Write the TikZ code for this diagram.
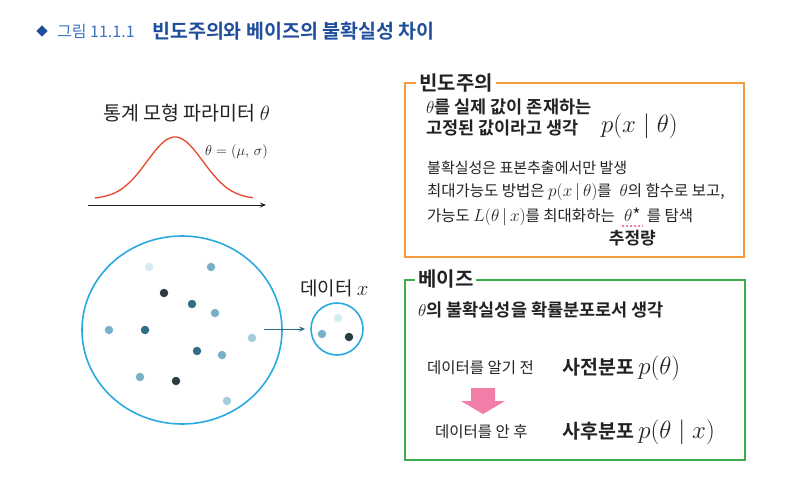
\documentclass[tikz,border=0pt]{standalone}
\usepackage[no-math]{fontspec}
\setmainfont{Noto Sans CJK KR}[BoldFont={Noto Sans CJK KR Bold}]
\usetikzlibrary{arrows.meta,shapes.geometric}
\definecolor{ttlblue}{HTML}{1F4E9C}
\definecolor{ttllight}{HTML}{3F73BE}
\definecolor{frorange}{HTML}{F39A3D}
\definecolor{frgreen}{HTML}{3DAA4B}
\definecolor{cyanc}{HTML}{29A9E1}
\definecolor{pinkc}{HTML}{F27DA9}
\definecolor{curvec}{HTML}{E8452A}
\definecolor{dA}{HTML}{D3ECF3}
\definecolor{dB}{HTML}{A3CCDC}
\definecolor{dC}{HTML}{7BAFC6}
\definecolor{dD}{HTML}{2F6E84}
\definecolor{dE}{HTML}{2B3B40}
\definecolor{txt}{HTML}{222222}
\newcommand{\fs}[1]{\fontsize{#1}{#1}\selectfont}
\tikzset{
  lbl/.style={anchor=west, inner sep=0pt, text=txt},
  frame/.style={draw, line width=1.8pt, fill=none},
  flabel/.style={anchor=west, fill=white, inner xsep=3pt, inner ysep=0pt, text=txt, font=\fs{20}\bfseries},
  dot/.style={circle, inner sep=0pt, minimum size=8.5pt},
  bigc/.style={draw=cyanc, line width=1.6pt},
}
\begin{document}
\begin{tikzpicture}[x=1pt,y=-1pt]
\useasboundingbox (0,0) rectangle (802,492);
% title
\node[fill=ttlblue, inner sep=0pt, minimum size=8pt, rotate=45] (dia) at (42,31) {};
\node[lbl, text=ttllight, font=\fs{16}] (tnum) at (57,31) {그림 11.1.1};
\node[lbl, text=ttlblue, font=\fs{19.5}\bfseries] (ttl) at (152,31) {빈도주의와 베이즈의 불확실성 차이};
% left top: model
\node[lbl, font=\fs{19.5}] (model) at (103,113) {통계 모형 파라미터 $\theta$};
\node[lbl, font=\fs{15.5}] (param) at (205,152) {$\theta=(\mu,\,\sigma)$};
\coordinate (axA) at (88,205);
\coordinate (axB) at (266,205);
\draw[line width=1pt, txt, -{Stealth[length=6pt,width=5pt]}] (axA) -- (axB);
\draw[curvec, line width=1.3pt] plot[domain=95:253, samples=90, smooth] (\x, {199-62*exp(-((\x-175)/28)^2/2)});
% population circle
\node[bigc, ellipse, minimum width=200pt, minimum height=188pt, inner sep=0pt] (pop) at (182,330) {};
\foreach \px/\py/\c [count=\i] in {149/267/dA, 211/267/dC, 164/293/dE, 192/304/dD, 215/313/dC, 109/330/dC, 145/330/dD, 252/338/dB, 197/351/dD, 222/355/dC, 140/377/dC, 176/381/dE, 227/401/dB}
  \node[dot, fill=\c] (p\i) at (\px,\py) {};
% sample circle
\node[bigc, circle, minimum size=52pt, inner sep=0pt] (smp) at (337,329) {};
\node[dot, fill=dA] (s1) at (338,318) {};
\node[dot, fill=dC] (s2) at (322,334) {};
\node[dot, fill=dE] (s3) at (349,337) {};
\node[lbl, font=\fs{19}] (data) at (300,288) {데이터 \fs{22}$x$};
\coordinate (arS) at (264,329);
\draw[line width=1pt, dD, -{Stealth[length=6pt,width=5pt]}] (arS) -- ([xshift=-5pt]smp.west);
% frequentist box
\node[frame, draw=frorange, minimum width=339pt, minimum height=174pt, inner sep=0pt] (fbox) at (574.5,170) {};
\node[flabel] (flab) at (416,83) {빈도주의};
\node[lbl, font=\fs{17.5}\bfseries] (f1) at (426,107) {$\theta$를 실제 값이 존재하는};
\node[lbl, font=\fs{17.5}\bfseries] (f2) at (426,128) {고정된 값이라고 생각};
\node[lbl, font=\fs{24}] (pxt) at (601,126) {$p(x\mid\theta)$};
\node[lbl, font=\fs{15}] (f3) at (427,168) {불확실성은 표본추출에서만 발생};
\node[lbl, font=\fs{15.5}] (f4) at (427,192) {최대가능도 방법은 \fs{16}$p(x\,|\,\theta)$\fs{15.5}를 \;\fs{17}$\theta$\fs{15.5}의 함수로 보고,};
\node[lbl, font=\fs{15.5}] (f5a) at (427,217) {가능도 \fs{16.5}$L(\theta\,|\,x)$\fs{15.5}를 최대화하는 };
\node[anchor=base west, inner xsep=2pt, inner ysep=0pt, text=txt, font=\fs{17}] (tstar) at ([xshift=7pt]f5a.base east) {$\theta$*};
\node[anchor=base west, inner sep=0pt, text=txt, font=\fs{15.5}] (f5b) at ([xshift=4pt]tstar.base east) {를 탐색};
\draw[pinkc, line width=2pt, dotted] ([yshift=-4pt]tstar.south west) -- ([yshift=-4pt]tstar.south east);
\node[inner sep=0pt, text=txt, font=\fs{17}\bfseries] (est) at ([yshift=-24pt]tstar.center) {추정량};
% bayes box
\node[frame, draw=frgreen, minimum width=340pt, minimum height=180pt, inner sep=0pt] (bbox) at (575,370) {};
\node[flabel] (blab) at (415,279) {베이즈};
\node[lbl, font=\fs{17.5}\bfseries] (b1) at (418,310) {$\theta$의 불확실성을 확률분포로서 생각};
\node[lbl, font=\fs{15.5}] (bpre) at (427,368) {데이터를 알기 전};
\node[lbl, font=\fs{19.5}\bfseries] (prior) at (562,368) {사전분포 \fs{26}$p(\theta)$};
\node[lbl, font=\fs{15.5}] (bpost) at (435,432) {데이터를 안 후};
\node[lbl, font=\fs{19.5}\bfseries] (post) at (562,432) {사후분포 \fs{26}$p(\theta\mid x)$};
\coordinate (pkA) at (483,388);
\fill[pinkc] (pkA) ++(-12,0) -- ++(24,0) -- ++(0,13) -- ++(10,0) -- ++(-22,13) -- ++(-22,-13) -- ++(10,0) -- cycle;
\end{tikzpicture}
\end{document}
